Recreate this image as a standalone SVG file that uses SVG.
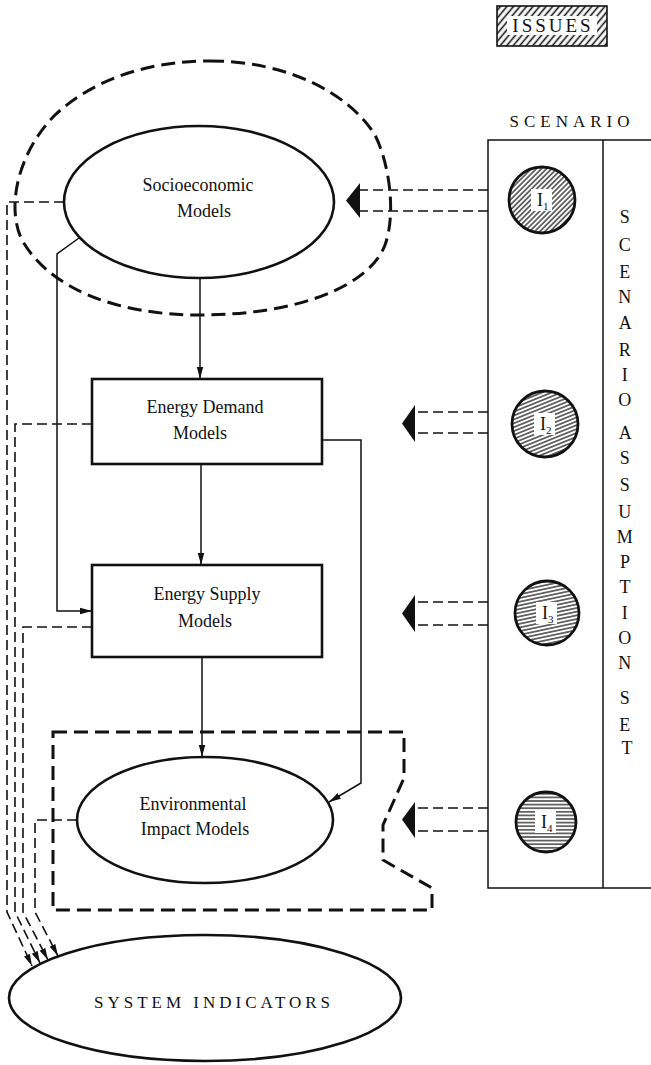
<svg xmlns="http://www.w3.org/2000/svg" width="651" height="1065" viewBox="0 0 651 1065">
  <style>
    text { font-family: "Liberation Serif", "Times New Roman", serif; fill: #111; }
    .lbl { font-size: 18px; text-anchor: middle; }
    .vt { font-size: 18px; text-anchor: middle; }
    .node { fill: #fff; stroke: #111; stroke-width: 2.6; }
    .frame { fill: none; stroke: #111; stroke-width: 3; stroke-dasharray: 14 7; }
    .solid { fill: none; stroke: #111; stroke-width: 1.5; }
    .dash { fill: none; stroke: #111; stroke-width: 1.6; stroke-dasharray: 10 5; }
    .head { fill: #111; stroke: none; }
    .col { fill: none; stroke: #111; stroke-width: 1.5; }
    .issue { stroke: #111; stroke-width: 2.8; }
    .tag { font-size: 18px; }
    .sub { font-size: 11px; }
  </style>
  <defs>
    <pattern id="hatchIssues" width="5" height="5" patternUnits="userSpaceOnUse" patternTransform="rotate(-50)">
      <line x1="0" y1="2.5" x2="5" y2="2.5" stroke="#111" stroke-width="1.6"/>
    </pattern>
    <pattern id="hatch1" width="3.6" height="3.6" patternUnits="userSpaceOnUse" patternTransform="rotate(-45)">
      <line x1="0" y1="1.8" x2="3.6" y2="1.8" stroke="#111" stroke-width="1.2"/>
    </pattern>
    <pattern id="hatch2" width="3.6" height="3.6" patternUnits="userSpaceOnUse" patternTransform="rotate(-22)">
      <line x1="0" y1="1.8" x2="3.6" y2="1.8" stroke="#111" stroke-width="1.2"/>
    </pattern>
    <pattern id="hatch3" width="3.6" height="3.6" patternUnits="userSpaceOnUse" patternTransform="rotate(-12)">
      <line x1="0" y1="1.8" x2="3.6" y2="1.8" stroke="#111" stroke-width="1.2"/>
    </pattern>
    <pattern id="hatch4" width="3.6" height="3.6" patternUnits="userSpaceOnUse">
      <line x1="0" y1="1.8" x2="3.6" y2="1.8" stroke="#111" stroke-width="1.2"/>
    </pattern>
    <marker id="arr" markerWidth="13" markerHeight="8" refX="12" refY="4" orient="auto" markerUnits="userSpaceOnUse">
      <path d="M0,0.8 L12,4 L0,7.2 Z" fill="#111"/>
    </marker>
  </defs>

  <rect width="651" height="1065" fill="#fff"/>

  <!-- issues legend -->
  <g id="issues">
    <rect x="497" y="6" width="110" height="40" fill="url(#hatchIssues)" stroke="#111" stroke-width="1.6"/>
    <rect x="507" y="16" width="90" height="19" fill="#fff"/>
    <text x="553" y="32" style="font-size:19px;text-anchor:middle;letter-spacing:3px">ISSUES</text>
  </g>

  <!-- scenario column -->
  <g id="scenario">
    <text x="572" y="127" style="font-size:17px;text-anchor:middle;letter-spacing:5px">SCENARIO</text>
    <path class="col" d="M660,140 L488,140 L488,888 L660,888 M603,140 L603,888"/>
    <text class="vt">
      <tspan x="627" y="223">S</tspan>
      <tspan x="627" y="251">C</tspan>
      <tspan x="627" y="278">E</tspan>
      <tspan x="627" y="303">N</tspan>
      <tspan x="627" y="329">A</tspan>
      <tspan x="627" y="356">R</tspan>
      <tspan x="627" y="381">I</tspan>
      <tspan x="627" y="406">O</tspan>
      <tspan x="627" y="439">A</tspan>
      <tspan x="627" y="464">S</tspan>
      <tspan x="627" y="491">S</tspan>
      <tspan x="627" y="518">U</tspan>
      <tspan x="627" y="543">M</tspan>
      <tspan x="627" y="568">P</tspan>
      <tspan x="627" y="593">T</tspan>
      <tspan x="627" y="619">I</tspan>
      <tspan x="627" y="644">O</tspan>
      <tspan x="627" y="669">N</tspan>
      <tspan x="627" y="704">S</tspan>
      <tspan x="627" y="731">E</tspan>
      <tspan x="627" y="754">T</tspan>
    </text>
  </g>

  <g id="issue1">
    <circle class="issue" cx="542" cy="200" r="33" fill="url(#hatch1)"/>
    <rect x="531" y="189" width="21" height="22" fill="#fff"/>
    <text class="tag" x="537" y="206">I<tspan class="sub" dy="4">1</tspan></text>
  </g>
  <g id="issue2">
    <circle class="issue" cx="545" cy="424" r="33" fill="url(#hatch2)"/>
    <rect x="534" y="413" width="21" height="22" fill="#fff"/>
    <text class="tag" x="540" y="430">I<tspan class="sub" dy="4">2</tspan></text>
  </g>
  <g id="issue3">
    <circle class="issue" cx="547" cy="613" r="32" fill="url(#hatch3)"/>
    <rect x="536" y="602" width="21" height="22" fill="#fff"/>
    <text class="tag" x="542" y="619">I<tspan class="sub" dy="4">3</tspan></text>
  </g>
  <g id="issue4">
    <circle class="issue" cx="546" cy="822" r="30" fill="url(#hatch4)"/>
    <rect x="535" y="811" width="21" height="22" fill="#fff"/>
    <text class="tag" x="541" y="828">I<tspan class="sub" dy="4">4</tspan></text>
  </g>

  <!-- socioeconomic models with dashed boundary -->
  <g id="socioeconomic">
    <path class="frame" d="M210,61 C290,61 350,95 375,135 C390,165 396,215 385,245 C370,285 300,315 199,315 C120,315 50,290 22,240 C5,205 20,150 55,115 C95,78 150,61 210,61 Z"/>
    <ellipse class="node" cx="199" cy="202" rx="135" ry="76"/>
    <text class="lbl" x="198" y="191">Socioeconomic</text>
    <text class="lbl" x="204" y="217">Models</text>
  </g>

  <g id="energy-demand">
    <rect class="node" x="92" y="379" width="230" height="85"/>
    <text class="lbl" x="205" y="413">Energy Demand</text>
    <text class="lbl" x="200" y="439">Models</text>
  </g>

  <g id="energy-supply">
    <rect class="node" x="92" y="565" width="230" height="92"/>
    <text class="lbl" x="207" y="600">Energy Supply</text>
    <text class="lbl" x="205" y="627">Models</text>
  </g>

  <g id="environmental">
    <path class="frame" d="M53,732 L404,732 L404,778 L383,825 L383,860 L432,888 L432,910 L53,910 Z"/>
    <ellipse class="node" cx="205" cy="820" rx="128" ry="63"/>
    <text class="lbl" x="193" y="810">Environmental</text>
    <text class="lbl" x="195" y="835">Impact Models</text>
  </g>

  <g id="system-indicators">
    <ellipse class="node" cx="205" cy="998" rx="196" ry="63"/>
    <text x="214" y="1008" style="font-size:17px;text-anchor:middle;letter-spacing:4px">SYSTEM INDICATORS</text>
  </g>

  <!-- connectors -->
  <g id="connectors">
    <line class="solid" x1="200" y1="278" x2="200" y2="379" marker-end="url(#arr)"/>
    <line class="solid" x1="201" y1="464" x2="201" y2="565" marker-end="url(#arr)"/>
    <line class="solid" x1="202" y1="657" x2="202" y2="757" marker-end="url(#arr)"/>
    <path class="solid" d="M79,238 L57,254 L57,611 L92,611" marker-end="url(#arr)"/>
    <path class="solid" d="M322,440 L361,440 L361,783 L329,802" marker-end="url(#arr)"/>

    <path class="dash" d="M64,202 L7,202 L7,912 L32,966" marker-end="url(#arr)"/>
    <path class="dash" d="M92,424 L15,424 L15,912 L40,963" marker-end="url(#arr)"/>
    <path class="dash" d="M92,627 L23,627 L23,912 L48,960" marker-end="url(#arr)"/>
    <path class="dash" d="M77,820 L35,820 L35,912 L58,956" marker-end="url(#arr)"/>

    <path class="dash" d="M488,190 L359,190 M488,211 L359,211"/>
    <path class="head" d="M346,200.5 L360,183 L360,218 Z"/>
    <path class="dash" d="M488,412 L414,412 M488,433 L414,433"/>
    <path class="head" d="M402,423.5 L415,405 L415,442 Z"/>
    <path class="dash" d="M488,602 L414,602 M488,625 L414,625"/>
    <path class="head" d="M402,613.5 L415,595 L415,632 Z"/>
    <path class="dash" d="M488,808 L414,808 M488,831 L414,831"/>
    <path class="head" d="M402,819.5 L415,802 L415,838 Z"/>
  </g>
</svg>
